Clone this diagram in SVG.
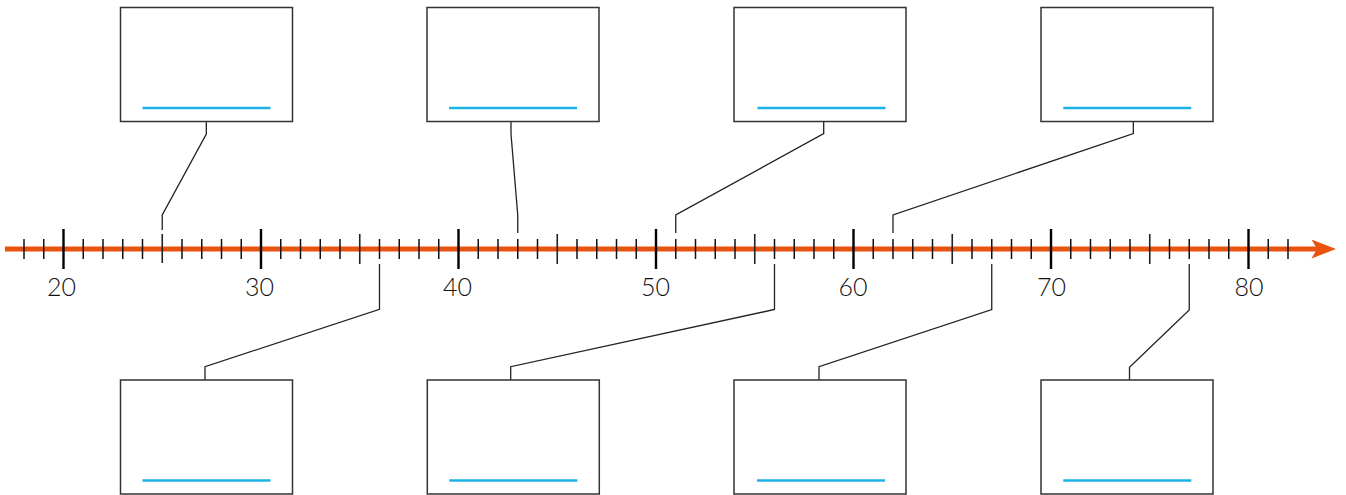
<svg xmlns="http://www.w3.org/2000/svg" width="1346" height="495" viewBox="0 0 1346 495">
<style>
.box{fill:#fff;stroke:#333;stroke-width:1.5}
.blank{stroke:#1cb2e6;stroke-width:2.5}
.conn{fill:none;stroke:#222;stroke-width:1.3}
.tk{stroke:#111;stroke-width:1.5}
.tk5{stroke:#222;stroke-width:1.6}
.tkM{stroke:#000;stroke-width:2.4}
.lbl{font-family:Lato,"Noto Sans","Liberation Sans",sans-serif;font-weight:300;font-size:25px;fill:#111;text-anchor:middle}
</style>
<rect width="1346" height="495" fill="#fff"/>
<g id="axis">
<line x1="5" y1="249" x2="1318" y2="249" stroke="#e8530f" stroke-width="5"/>
<polygon points="1336,249 1311.5,239.5 1317,249 1311.5,258.5" fill="#e8530f"/>
<g id="ticks">
<line class="tk" x1="24" y1="239" x2="24" y2="259"/>
<line class="tk" x1="43.75" y1="239" x2="43.75" y2="259"/>
<line class="tkM" x1="63.5" y1="229" x2="63.5" y2="269"/>
<line class="tk" x1="83.25" y1="239" x2="83.25" y2="259"/>
<line class="tk" x1="103" y1="239" x2="103" y2="259"/>
<line class="tk" x1="122.75" y1="239" x2="122.75" y2="259"/>
<line class="tk" x1="142.5" y1="239" x2="142.5" y2="259"/>
<line class="tk5" x1="162.25" y1="234" x2="162.25" y2="263"/>
<line class="tk" x1="182" y1="239" x2="182" y2="259"/>
<line class="tk" x1="201.75" y1="239" x2="201.75" y2="259"/>
<line class="tk" x1="221.5" y1="239" x2="221.5" y2="259"/>
<line class="tk" x1="241.25" y1="239" x2="241.25" y2="259"/>
<line class="tkM" x1="261" y1="229" x2="261" y2="269"/>
<line class="tk" x1="280.75" y1="239" x2="280.75" y2="259"/>
<line class="tk" x1="300.5" y1="239" x2="300.5" y2="259"/>
<line class="tk" x1="320.25" y1="239" x2="320.25" y2="259"/>
<line class="tk" x1="340" y1="239" x2="340" y2="259"/>
<line class="tk5" x1="359.75" y1="234" x2="359.75" y2="264"/>
<line class="tk" x1="379.5" y1="239" x2="379.5" y2="259"/>
<line class="tk" x1="399.25" y1="239" x2="399.25" y2="259"/>
<line class="tk" x1="419" y1="239" x2="419" y2="259"/>
<line class="tk" x1="438.75" y1="239" x2="438.75" y2="259"/>
<line class="tkM" x1="458.5" y1="229" x2="458.5" y2="269"/>
<line class="tk" x1="478.25" y1="239" x2="478.25" y2="259"/>
<line class="tk" x1="498" y1="239" x2="498" y2="259"/>
<line class="tk" x1="517.75" y1="239" x2="517.75" y2="259"/>
<line class="tk" x1="537.5" y1="239" x2="537.5" y2="259"/>
<line class="tk5" x1="557.25" y1="234" x2="557.25" y2="264"/>
<line class="tk" x1="577" y1="239" x2="577" y2="259"/>
<line class="tk" x1="596.75" y1="239" x2="596.75" y2="259"/>
<line class="tk" x1="616.5" y1="239" x2="616.5" y2="259"/>
<line class="tk" x1="636.25" y1="239" x2="636.25" y2="259"/>
<line class="tkM" x1="656" y1="229" x2="656" y2="269"/>
<line class="tk" x1="675.75" y1="239" x2="675.75" y2="259"/>
<line class="tk" x1="695.5" y1="239" x2="695.5" y2="259"/>
<line class="tk" x1="715.25" y1="239" x2="715.25" y2="259"/>
<line class="tk" x1="735" y1="239" x2="735" y2="259"/>
<line class="tk5" x1="754.75" y1="234" x2="754.75" y2="264"/>
<line class="tk" x1="774.5" y1="239" x2="774.5" y2="259"/>
<line class="tk" x1="794.25" y1="239" x2="794.25" y2="259"/>
<line class="tk" x1="814" y1="239" x2="814" y2="259"/>
<line class="tk" x1="833.75" y1="239" x2="833.75" y2="259"/>
<line class="tkM" x1="853.5" y1="229" x2="853.5" y2="269"/>
<line class="tk" x1="873.25" y1="239" x2="873.25" y2="259"/>
<line class="tk" x1="893" y1="239" x2="893" y2="259"/>
<line class="tk" x1="912.75" y1="239" x2="912.75" y2="259"/>
<line class="tk" x1="932.5" y1="239" x2="932.5" y2="259"/>
<line class="tk5" x1="952.25" y1="234" x2="952.25" y2="264"/>
<line class="tk" x1="972" y1="239" x2="972" y2="259"/>
<line class="tk" x1="991.75" y1="239" x2="991.75" y2="259"/>
<line class="tk" x1="1011.5" y1="239" x2="1011.5" y2="259"/>
<line class="tk" x1="1031.25" y1="239" x2="1031.25" y2="259"/>
<line class="tkM" x1="1051" y1="229" x2="1051" y2="269"/>
<line class="tk" x1="1070.75" y1="239" x2="1070.75" y2="259"/>
<line class="tk" x1="1090.5" y1="239" x2="1090.5" y2="259"/>
<line class="tk" x1="1110.25" y1="239" x2="1110.25" y2="259"/>
<line class="tk" x1="1130" y1="239" x2="1130" y2="259"/>
<line class="tk5" x1="1149.75" y1="234" x2="1149.75" y2="264"/>
<line class="tk" x1="1169.5" y1="239" x2="1169.5" y2="259"/>
<line class="tk" x1="1189.25" y1="239" x2="1189.25" y2="259"/>
<line class="tk" x1="1209" y1="239" x2="1209" y2="259"/>
<line class="tk" x1="1228.75" y1="239" x2="1228.75" y2="259"/>
<line class="tkM" x1="1248.5" y1="229" x2="1248.5" y2="269"/>
<line class="tk" x1="1268.25" y1="239" x2="1268.25" y2="259"/>
<line class="tk" x1="1288" y1="239" x2="1288" y2="259"/>
</g>
<g id="labels">
<text class="lbl" x="61.5" y="295.5">20</text>
<text class="lbl" x="259.5" y="295.5">30</text>
<text class="lbl" x="457.5" y="295.5">40</text>
<text class="lbl" x="655.5" y="295.5">50</text>
<text class="lbl" x="853" y="295.5">60</text>
<text class="lbl" x="1051.5" y="295.5">70</text>
<text class="lbl" x="1249" y="295.5">80</text>
</g>
</g>
<g id="connectors">
<polyline class="conn" points="206.3,121.5 206.3,134 162.25,215 162.25,230"/>
<polyline class="conn" points="511,121.5 511,134 517.75,215 517.75,233"/>
<polyline class="conn" points="823.7,121.5 823.7,133.5 675.75,215 675.75,233"/>
<polyline class="conn" points="1133.3,121.5 1133.3,133.5 893,215 893,233"/>
<polyline class="conn" points="379.5,264 379.5,309.3 205,366.7 205,380"/>
<polyline class="conn" points="774.5,264 774.5,309.5 510.7,366.7 510.7,380"/>
<polyline class="conn" points="991.75,264 991.75,309.5 819,366.7 819,380"/>
<polyline class="conn" points="1189.25,264 1189.25,310 1129.5,367.3 1129.5,380"/>
</g>
<g id="box-top-1"><rect class="box" x="120.5" y="7.5" width="172" height="114"/><line class="blank" x1="142.5" y1="108" x2="270.5" y2="108"/></g>
<g id="box-top-2"><rect class="box" x="427" y="7.5" width="172" height="114"/><line class="blank" x1="449" y1="108" x2="577" y2="108"/></g>
<g id="box-top-3"><rect class="box" x="734" y="7.5" width="172" height="114"/><line class="blank" x1="757.5" y1="108" x2="885.5" y2="108"/></g>
<g id="box-top-4"><rect class="box" x="1041" y="7.5" width="172" height="114"/><line class="blank" x1="1063.3" y1="108" x2="1191.3" y2="108"/></g>
<g id="box-bottom-1"><rect class="box" x="120.5" y="380" width="172" height="114"/><line class="blank" x1="142.5" y1="480.5" x2="270.5" y2="480.5"/></g>
<g id="box-bottom-2"><rect class="box" x="427.3" y="380" width="172" height="114"/><line class="blank" x1="449.3" y1="480.5" x2="577.3" y2="480.5"/></g>
<g id="box-bottom-3"><rect class="box" x="734" y="380" width="172" height="114"/><line class="blank" x1="757" y1="480.5" x2="885" y2="480.5"/></g>
<g id="box-bottom-4"><rect class="box" x="1041" y="380" width="172" height="114"/><line class="blank" x1="1063.3" y1="480.5" x2="1191.3" y2="480.5"/></g>
</svg>
